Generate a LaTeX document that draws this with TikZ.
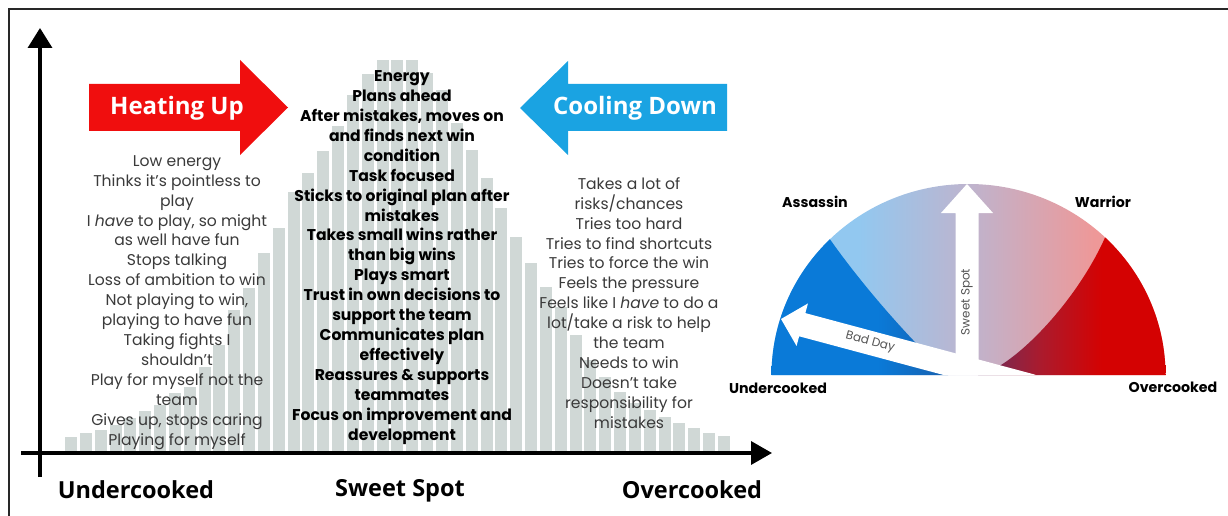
\documentclass[tikz,border=0pt]{standalone}
\usepackage{fontspec}
\setmainfont{Poppins}
\newfontfamily\headfont{Open Sans}
\usetikzlibrary{arrows.meta}

\definecolor{barfill}{RGB}{208,216,214}
\definecolor{heatred}{RGB}{240,14,14}
\definecolor{coolblue}{RGB}{26,163,226}
\definecolor{bodytext}{RGB}{58,58,58}
\definecolor{framegray}{RGB}{40,40,40}
\definecolor{gdblue}{RGB}{10,122,216}
\definecolor{gdblueb}{RGB}{24,96,174}
\definecolor{glblue}{RGB}{146,200,240}
\definecolor{glav}{RGB}{190,180,206}
\definecolor{gpink}{RGB}{238,152,152}
\definecolor{gpurple}{RGB}{104,46,94}
\definecolor{gcrimson}{RGB}{172,26,44}
\definecolor{gred}{RGB}{212,2,2}
\definecolor{arrowtext}{RGB}{85,85,85}

% horizontal shadings for the three gauge zones (path box = 25bp..75bp)
\pgfdeclarehorizontalshading{gaugemid}{100bp}{color(0bp)=(glblue); color(36bp)=(glblue); color(50bp)=(glav); color(66bp)=(gpink); color(100bp)=(gpink)}
\pgfdeclarehorizontalshading{gaugecold}{100bp}{color(0bp)=(gdblue); color(55bp)=(gdblue); color(75bp)=(gdblueb); color(100bp)=(gdblueb)}
\pgfdeclarehorizontalshading{gaugehot}{100bp}{color(0bp)=(gpurple); color(25bp)=(gpurple); color(42bp)=(gcrimson); color(58bp)=(gred); color(100bp)=(gred)}

\begin{document}
\begin{tikzpicture}[x=1pt,y=-1pt,
  listtext/.style={align=center, text=bodytext, inner sep=0pt,
    font=\fontsize{15.6}{19.95}\selectfont},
  keytext/.style={align=center, text=black, inner sep=0pt,
    font=\bfseries\fontsize{15.6}{19.95}\selectfont},
  axislabel/.style={inner sep=0pt, text=black,
    font=\headfont\bfseries\fontsize{23.5}{26}\selectfont},
  bandtitle/.style={inner sep=0pt, text=white,
    font=\headfont\bfseries\fontsize{24}{26}\selectfont},
  gaugelabel/.style={inner sep=0pt, text=black,
    font=\bfseries\fontsize{14.2}{16}\selectfont},
  arrowlabel/.style={inner sep=0pt, text=arrowtext,
    font=\fontsize{12}{13}\selectfont},
  axisline/.style={line width=3.5pt, black},
]
\useasboundingbox (0,0) rectangle (1228,516);

% outer frame (open at right and bottom)
\draw[line width=2pt, framegray] (8.5,530) -- (8.5,9.5) -- (1240,9.5);

% distribution bars
\foreach \t [count=\i from 0] in {437,433,430,425,418,411,405,393,387,367,345,310,288,253,228,192,173,151,126,95,74,60,60,60,73,90,123,150,178,208,237,263,287,307,335,360,377,392,403,410,417,423,428,433,436}
  \fill[barfill] ({65+14.84*\i},\t) rectangle ({77+14.84*\i},451);

% axes
\coordinate (yfoot) at (40,477);
\coordinate (ytop) at (40,28);
\coordinate (xfoot) at (21,453);
\coordinate (xend) at (772,453);
\draw[axisline, -{Triangle[length=20pt,width=24pt]}] (yfoot) -- (ytop);
\draw[axisline, -{Triangle[length=21pt,width=23pt]}] (xfoot) -- (xend);

% direction arrows
\fill[heatred] (89,84) -- (240,84) -- (240,60) -- (288,107.5) -- (240,155) -- (240,131) -- (89,131) -- cycle;
\fill[coolblue] (727,84) -- (568,84) -- (568,61) -- (520,108) -- (568,155) -- (568,131) -- (727,131) -- cycle;
\node[bandtitle] (heat) at (177,108) {Heating Up};
\node[bandtitle] (cool) at (635,108) {Cooling Down};

% behaviour lists
\node[listtext] (under) at (177,302.5) {Low energy\\Thinks it’s pointless to\\play\\I \emph{have} to play, so might\\as well have fun\\Stops talking\\Loss of ambition to win\\Not playing to win,\\playing to have fun\\Taking fights I\\shouldn’t\\Play for myself not the\\team\\Gives up, stops caring\\Playing for myself};
\node[keytext] (sweet) at (402,257.5) {Energy\\Plans ahead\\After mistakes, moves on\\and finds next win\\condition\\Task focused\\Sticks to original plan after\\mistakes\\Takes small wins rather\\than big wins\\Plays smart\\Trust in own decisions to\\support the team\\Communicates plan\\effectively\\Reassures \& supports\\teammates\\Focus on improvement and\\development};
\node[listtext] (over) at (629,303) {Takes a lot of\\risks/chances\\Tries too hard\\Tries to find shortcuts\\Tries to force the win\\Feels the pressure\\Feels like I \emph{have} to do a\\lot/take a risk to help\\the team\\Needs to win\\Doesn’t take\\responsibility for\\mistakes};

% axis captions
\node[axislabel] (capunder) at (136,490) {Undercooked};
\node[axislabel] (capsweet) at (400,491) {Sweet Spot};
\node[axislabel] (capover) at (692,490) {Overcooked};

% gauge
\shade[shading=gaugemid] (771.5,375) arc[start angle=180, end angle=360, x radius=197, y radius=191] -- cycle;
\shade[shading=gaugecold] (771.5,375) arc[start angle=180, end angle=225.3, x radius=197, y radius=191]
  .. controls (855,275) and (900,330) .. (948,375) -- cycle;
\shade[shading=gaugehot] (1165.5,375) arc[start angle=360, end angle=313.9, x radius=197, y radius=191]
  .. controls (1075,305) and (1010,370) .. (978,375) -- cycle;

\begin{scope}
  \clip (771.5,375) arc[start angle=180, end angle=360, x radius=197, y radius=191] -- cycle;
  % bad day pointer
  \begin{scope}[shift={(781,319)}, rotate=-15]
    \fill[white] (0,0) -- (22,-22) -- (22,-12) -- (260,-12) -- (260,12) -- (22,12) -- (22,22) -- cycle;
    \node[arrowlabel, rotate=-15] (badday) at (92,-1) {Bad Day};
  \end{scope}
  % sweet spot pointer
  \fill[white] (955.5,380) -- (955.5,213) -- (941,213) -- (967,184) -- (993,213) -- (978.5,213) -- (978.5,380) -- cycle;
\end{scope}
\node[arrowlabel, rotate=90] (sweetlbl) at (967,302) {Sweet Spot};

\node[gaugelabel] (assassin) at (815,202) {Assassin};
\node[gaugelabel] (warrior) at (1103,202) {Warrior};
\node[gaugelabel] (gunder) at (778,388) {Undercooked};
\node[gaugelabel] (gover) at (1173,387) {Overcooked};
\end{tikzpicture}
\end{document}
